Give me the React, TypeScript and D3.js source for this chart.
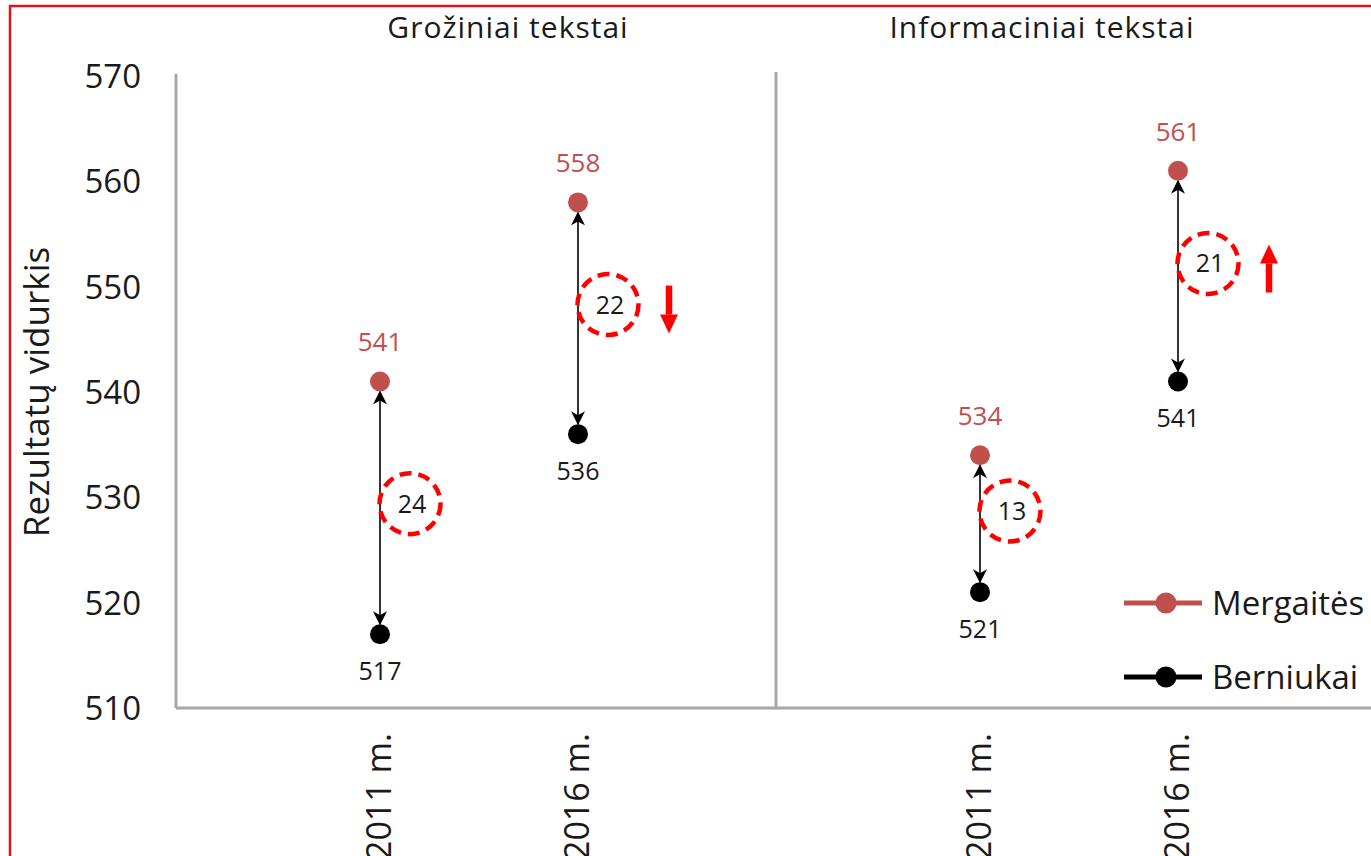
import React from "react";
import * as d3 from "d3";

const panels = ["Grožiniai tekstai", "Informaciniai tekstai"];
const years = ["2011 m.", "2016 m."];
const girls = [541, 558, 534, 561]; // Mergaitės
const boys = [517, 536, 521, 541]; // Berniukai
const gaps = [24, 22, 13, 21];
const gapLabelAt = [529.4, 548.3, 528.7, 552.2]; // value level of the dashed circle
const trend = [0, -1, 0, 1]; // change of gap vs 2011
const yTicks = [510, 520, 530, 540, 550, 560, 570];
const seriesNames = ["Mergaitės", "Berniukai"];

const W = 1371;
const H = 856;
const FONT = "'Open Sans', 'DejaVu Sans', sans-serif";
const RED = "#c0504d";
const AXIS = "#a6a6a6";

export default function App() {
  const y = d3.scaleLinear().domain([510, 570]).range([708, 76]);
  const px = d3.scaleBand<string>().domain(panels).range([176, 1376]);
  const ix = d3.scalePoint<string>().domain(years).range([6, 600]).padding(1);

  const points = panels.flatMap((p, pi) =>
    years.map((yr, yi) => {
      const k = pi * years.length + yi;
      return {
        k,
        x: (px(p) ?? 0) + (ix(yr) ?? 0),
        g: girls[k],
        b: boys[k],
        gap: gaps[k],
        gy: gapLabelAt[k],
        t: trend[k],
        yr,
      };
    })
  );

  const titleX = [508, 1042];

  return (
    <svg width={W} height={H} style={{ display: "block", position: "absolute", left: 0, top: 0 }} fontFamily={FONT}>
      <defs>
        <marker id="ah" viewBox="0 0 14 14" refX="13" refY="7" markerWidth="14" markerHeight="14" markerUnits="userSpaceOnUse" orient="auto-start-reverse">
          <path d="M0,0 L14,7 L0,14 L4,7 Z" fill="#000" />
        </marker>
      </defs>
      <rect x={0} y={0} width={W} height={H} fill="#fff" />
      {/* frame */}
      <path d={`M10,${H} V6 H${W}`} fill="none" stroke="#d9141c" strokeWidth={2.5} />

      {/* panel titles */}
      {panels.map((p, i) => (
        <text key={p} x={titleX[i]} y={38} textAnchor="middle" fontSize={30} letterSpacing={1} fill="#1a1a1a">
          {p}
        </text>
      ))}

      {/* axes */}
      <line x1={176} x2={176} y1={74} y2={708} stroke={AXIS} strokeWidth={3} />
      <line x1={px(panels[1])} x2={px(panels[1])} y1={72} y2={708} stroke={AXIS} strokeWidth={3} />
      <line x1={176} x2={W} y1={708} y2={708} stroke={AXIS} strokeWidth={3} />

      {yTicks.map((t) => (
        <text key={t} x={141} y={y(t) + 12} textAnchor="end" fontSize={33} fill="#1a1a1a">
          {t}
        </text>
      ))}

      <text transform={`translate(49,${(76 + 708) / 2}) rotate(-90)`} textAnchor="middle" fontSize={35} fill="#1a1a1a">
        Rezultatų vidurkis
      </text>

      {/* x tick labels */}
      {points.map((d) => (
        <text key={"xl" + d.k} transform={`translate(${d.x + 11},733) rotate(-90)`} textAnchor="end" fontSize={34} fill="#1a1a1a">
          {d.yr}
        </text>
      ))}

      {/* gap arrows */}
      {points.map((d) => (
        <line
          key={"ar" + d.k}
          x1={d.x}
          x2={d.x}
          y1={y(d.g) + 10}
          y2={y(d.b) - 10}
          stroke="#000"
          strokeWidth={1.6}
          markerStart="url(#ah)"
          markerEnd="url(#ah)"
        />
      ))}

      {/* points */}
      {points.map((d) => (
        <g key={"pt" + d.k}>
          <circle cx={d.x} cy={y(d.g)} r={10} fill={RED} />
          <circle cx={d.x} cy={y(d.b)} r={10} fill="#000" />
          <text x={d.x} y={y(d.g) - 30} textAnchor="middle" fontSize={26} fill={RED}>
            {d.g}
          </text>
          <text x={d.x} y={y(d.b) + 46} textAnchor="middle" fontSize={25} fill="#1a1a1a">
            {d.b}
          </text>
        </g>
      ))}

      {/* gap circles */}
      {points.map((d) => {
        const cy = y(d.gy);
        const cx = d.x + 30;
        return (
          <g key={"gc" + d.k}>
            <circle cx={cx} cy={cy} r={30.5} fill="none" stroke="#ff0000" strokeWidth={4.5} strokeDasharray="12 7" />
            <text x={cx + 2} y={cy + 9} textAnchor="middle" fontSize={25} fill="#1a1a1a">
              {d.gap}
            </text>
            {d.t !== 0 && (() => {
              const ax = d.x + 91;
              const ac = cy + 5;
              const half = 24;
              const tip = d.t > 0 ? ac - half : ac + half;
              const tail = d.t > 0 ? ac + half : ac - half;
              const hb = d.t > 0 ? tip + 19 : tip - 19;
              return (
                <g>
                  <line x1={ax} x2={ax} y1={tail} y2={hb} stroke="#ff0000" strokeWidth={6.5} />
                  <path d={`M${ax - 9},${hb} L${ax + 9},${hb} L${ax},${tip} Z`} fill="#ff0000" />
                </g>
              );
            })()}
          </g>
        );
      })}

      {/* legend */}
      {seriesNames.map((s, i) => {
        const ly = 603 + i * 74;
        const c = i === 0 ? RED : "#000";
        return (
          <g key={s}>
            <line x1={1124} x2={1202} y1={ly} y2={ly} stroke={c} strokeWidth={5} />
            <circle cx={1166} cy={ly} r={10.5} fill={c} />
            <text x={1212} y={ly + 12} fontSize={33} fill="#1a1a1a">
              {s}
            </text>
          </g>
        );
      })}
    </svg>
  );
}
